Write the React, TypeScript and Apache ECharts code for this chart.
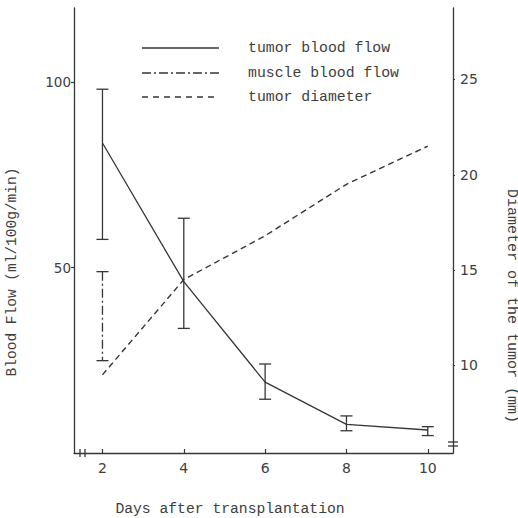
import React, { useEffect, useRef } from "react";
import * as echarts from "echarts";

// ---- data ----
const days = [2, 4, 6, 8, 10];
const xTickLabels = [2, 4, 6, 8, 10];
const flowTicks = [50, 100];
const diameterTicks = [10, 15, 20, 25];

const tumorFlowMean = [83.6, 46.2, 19.1, 7.7, 6.2];
const tumorFlowHigh = [98.1, 63.3, 24.0, 10.0, 7.1];
const tumorFlowLow = [57.6, 33.6, 14.5, 6.0, 4.7];

const muscleFlowDays = [2];
const muscleFlowHigh = [48.9];
const muscleFlowLow = [24.9];

const tumorDiameter = [9.5, 14.5, 16.8, 19.5, 21.5];

const legendNames = ["tumor blood flow", "muscle blood flow", "tumor diameter"];

const INK = "#363636";
const TEXT = "#3e3e3e";
const MONO = "'Liberation Mono', 'DejaVu Sans Mono', monospace";
const SANS = "'DejaVu Sans', 'Liberation Sans', sans-serif";

function errorBarRenderer(dash: number[] | null) {
  return (params: any, api: any) => {
    const x = api.value(0);
    const lo = api.value(1);
    const hi = api.value(2);
    const top = api.coord([x, hi]);
    const bot = api.coord([x, lo]);
    const half = 6;
    const style = { stroke: INK, lineWidth: 1.3, fill: "none" };
    return {
      type: "group",
      children: [
        {
          type: "line",
          shape: { x1: top[0], y1: top[1], x2: bot[0], y2: bot[1] },
          style: dash ? { ...style, lineDash: dash } : style,
        },
        {
          type: "line",
          shape: { x1: top[0] - half, y1: top[1], x2: top[0] + half, y2: top[1] },
          style,
        },
        {
          type: "line",
          shape: { x1: bot[0] - half, y1: bot[1], x2: bot[0] + half, y2: bot[1] },
          style,
        },
      ],
    };
  };
}

export default function App() {
  const ref = useRef<HTMLDivElement>(null);

  useEffect(() => {
    if (!ref.current) return;
    const chart = echarts.init(ref.current, null, { renderer: "svg" });

    const legendY = [48, 73, 97];
    const legendDash: (number[] | null)[] = [null, [9, 3, 2, 3], [6, 5]];

    const graphics: any[] = [];
    legendNames.forEach((name, i) => {
      graphics.push({
        type: "line",
        shape: { x1: 142, y1: legendY[i], x2: 219, y2: legendY[i] },
        style: legendDash[i]
          ? { stroke: INK, lineWidth: 1.3, lineDash: legendDash[i] }
          : { stroke: INK, lineWidth: 1.3 },
      });
      graphics.push({
        type: "text",
        x: 248,
        y: legendY[i],
        style: {
          text: name,
          fill: TEXT,
          font: `14.8px ${MONO}`,
          textAlign: "left",
          textVerticalAlign: "middle",
        },
      });
    });

    // axis titles
    graphics.push({
      type: "text",
      x: 12,
      y: 272,
      rotation: Math.PI / 2,
      style: {
        text: "Blood Flow (ml/100g/min)",
        fill: TEXT,
        font: `14.5px ${MONO}`,
        textAlign: "center",
        textVerticalAlign: "middle",
      },
    });
    graphics.push({
      type: "text",
      x: 511,
      y: 306,
      rotation: -Math.PI / 2,
      style: {
        text: "Diameter of the tumor (mm)",
        fill: TEXT,
        font: `15px ${MONO}`,
        textAlign: "center",
        textVerticalAlign: "middle",
      },
    });
    graphics.push({
      type: "text",
      x: 230,
      y: 509,
      style: {
        text: "Days after transplantation",
        fill: TEXT,
        font: `14.7px ${MONO}`,
        textAlign: "center",
        textVerticalAlign: "middle",
      },
    });

    // axis break marks
    graphics.push({
      type: "rect",
      shape: { x: 80.5, y: 450, width: 4, height: 6 },
      style: { fill: "#ffffff" },
    });
    graphics.push({
      type: "line",
      shape: { x1: 80, y1: 449, x2: 80, y2: 457 },
      style: { stroke: INK, lineWidth: 1.3 },
    });
    graphics.push({
      type: "line",
      shape: { x1: 85, y1: 449, x2: 85, y2: 457 },
      style: { stroke: INK, lineWidth: 1.3 },
    });
    graphics.push({
      type: "rect",
      shape: { x: 450, y: 442.5, width: 6, height: 3 },
      style: { fill: "#ffffff" },
    });
    graphics.push({
      type: "line",
      shape: { x1: 448, y1: 442, x2: 458, y2: 442 },
      style: { stroke: INK, lineWidth: 1.3 },
    });
    graphics.push({
      type: "line",
      shape: { x1: 448, y1: 446, x2: 458, y2: 446 },
      style: { stroke: INK, lineWidth: 1.3 },
    });

    const option: any = {
      animation: false,
      backgroundColor: "#ffffff",
      grid: { left: 74, right: 65, top: 8, bottom: 65, containLabel: false },
      xAxis: {
        type: "value",
        min: 1.3,
        max: 10.62,
        axisLine: { show: true, onZero: false, lineStyle: { color: INK, width: 1.3 } },
        axisTick: {
          show: true,
          inside: true,
          length: 4,
          customValues: xTickLabels,
          lineStyle: { color: INK, width: 1.2 },
        },
        axisLabel: {
          customValues: xTickLabels,
          color: TEXT,
          fontSize: 14,
          fontFamily: SANS,
          margin: 8,
        },
        splitLine: { show: false },
      },
      yAxis: [
        {
          type: "value",
          position: "left",
          min: 0,
          max: 120,
          axisLine: { show: true, lineStyle: { color: INK, width: 1.3 } },
          axisTick: {
            show: true,
            length: 3,
            customValues: flowTicks,
            lineStyle: { color: INK, width: 1.2 },
          },
          axisLabel: {
            customValues: flowTicks,
            color: TEXT,
            fontSize: 13.5,
            fontFamily: SANS,
            margin: 3,
          },
          splitLine: { show: false },
        },
        {
          type: "value",
          position: "right",
          min: 5.4,
          max: 28.75,
          axisLine: { show: true, lineStyle: { color: INK, width: 1.3 } },
          axisTick: {
            show: true,
            length: 2,
            customValues: diameterTicks,
            lineStyle: { color: INK, width: 1.2 },
          },
          axisLabel: {
            customValues: diameterTicks,
            color: TEXT,
            fontSize: 14,
            fontFamily: SANS,
            margin: 7,
          },
          splitLine: { show: false },
        },
      ],
      series: [
        {
          name: legendNames[0],
          type: "line",
          yAxisIndex: 0,
          data: days.map((d, i) => [d, tumorFlowMean[i]]),
          showSymbol: false,
          symbol: "none",
          lineStyle: { color: INK, width: 1.3 },
        },
        {
          name: "tumor flow error",
          type: "custom",
          yAxisIndex: 0,
          renderItem: errorBarRenderer(null),
          data: days.map((d, i) => [d, tumorFlowLow[i], tumorFlowHigh[i]]),
          z: 3,
        },
        {
          name: legendNames[1],
          type: "custom",
          yAxisIndex: 0,
          renderItem: errorBarRenderer([9, 3, 2, 3]),
          data: muscleFlowDays.map((d, i) => [d, muscleFlowLow[i], muscleFlowHigh[i]]),
          z: 3,
        },
        {
          name: legendNames[2],
          type: "line",
          yAxisIndex: 1,
          data: days.map((d, i) => [d, tumorDiameter[i]]),
          showSymbol: false,
          symbol: "none",
          lineStyle: { color: INK, width: 1.4, type: [6, 4] },
        },
      ],
      graphic: graphics,
    };

    chart.setOption(option);
    return () => chart.dispose();
  }, []);

  return (
    <div
      ref={ref}
      style={{ position: "fixed", left: 0, top: 0, width: 518, height: 518, background: "#fff" }}
    />
  );
}
